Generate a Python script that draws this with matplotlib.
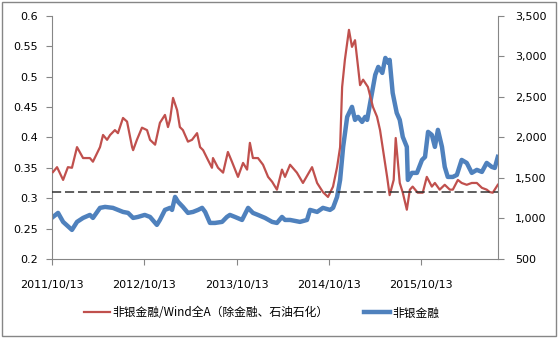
import numpy as np
import matplotlib
matplotlib.use("Agg")
import matplotlib.pyplot as plt
import matplotlib.dates as mdates
import pandas as pd
from matplotlib.patches import Rectangle

# relative valuation: non-bank financials / Wind All A (ex financials, oil & petrochem)
ratio_dates = [
    "2011-10-17", "2011-11-02", "2011-11-26", "2011-12-15", "2011-12-31", "2012-01-20",
    "2012-02-13", "2012-03-11", "2012-03-23", "2012-04-20", "2012-05-02", "2012-05-18",
    "2012-05-30", "2012-06-18", "2012-06-30", "2012-07-20", "2012-08-05", "2012-08-25",
    "2012-08-29", "2012-09-13", "2012-10-03", "2012-10-23", "2012-11-04", "2012-11-24",
    "2012-12-13", "2013-01-02", "2013-01-14", "2013-01-22", "2013-02-03", "2013-02-19",
    "2013-03-02", "2013-03-14", "2013-04-03", "2013-04-19", "2013-05-09", "2013-05-21",
    "2013-06-02", "2013-06-21", "2013-07-07", "2013-07-11", "2013-07-31", "2013-08-20",
    "2013-09-08", "2013-09-24", "2013-10-18", "2013-11-07", "2013-11-23", "2013-12-04",
    "2013-12-16", "2014-01-05", "2014-01-25", "2014-02-14", "2014-03-02", "2014-03-21",
    "2014-04-10", "2014-04-22", "2014-05-12", "2014-06-08", "2014-07-02", "2014-08-07",
    "2014-08-27", "2014-09-19", "2014-10-09", "2014-10-29", "2014-11-14", "2014-11-26",
    "2014-12-04", "2014-12-15", "2014-12-31", "2015-01-12", "2015-01-24", "2015-02-05",
    "2015-02-13", "2015-02-25", "2015-03-16", "2015-04-05", "2015-04-21", "2015-05-03",
    "2015-05-15", "2015-05-31", "2015-06-10", "2015-06-26", "2015-07-04", "2015-07-20",
    "2015-08-01", "2015-08-17", "2015-08-29", "2015-09-09", "2015-09-29", "2015-10-19",
    "2015-11-04", "2015-11-24", "2015-12-06", "2015-12-25", "2016-01-14", "2016-02-03",
    "2016-02-15", "2016-03-06", "2016-03-21", "2016-04-10", "2016-04-30", "2016-05-20",
    "2016-06-09", "2016-06-28", "2016-07-10", "2016-07-22", "2016-08-11",
]
ratio_values = [
    0.343, 0.351, 0.330, 0.351, 0.350, 0.384,
    0.366, 0.366, 0.360, 0.384, 0.404, 0.396,
    0.404, 0.412, 0.407, 0.432, 0.426, 0.384,
    0.379, 0.396, 0.416, 0.412, 0.396, 0.388,
    0.424, 0.437, 0.417, 0.429, 0.465, 0.445,
    0.417, 0.412, 0.393, 0.396, 0.407, 0.384,
    0.379, 0.363, 0.350, 0.366, 0.350, 0.342,
    0.376, 0.360, 0.335, 0.358, 0.347, 0.391,
    0.366, 0.366, 0.355, 0.335, 0.327, 0.314,
    0.347, 0.335, 0.355, 0.342, 0.325, 0.351,
    0.325, 0.310, 0.302, 0.319, 0.351, 0.384,
    0.483, 0.528, 0.577, 0.549, 0.560, 0.516,
    0.486, 0.495, 0.483, 0.450, 0.434, 0.412,
    0.379, 0.335, 0.305, 0.330, 0.399, 0.325,
    0.309, 0.281, 0.314, 0.319, 0.309, 0.309,
    0.335, 0.319, 0.325, 0.314, 0.322, 0.314,
    0.314, 0.330, 0.325, 0.322, 0.325, 0.325,
    0.317, 0.314, 0.310, 0.309, 0.322,
]

# non-bank financials index level
index_dates = [
    "2011-10-17", "2011-11-06", "2011-11-26", "2011-12-31", "2012-01-20", "2012-02-13",
    "2012-03-11", "2012-03-23", "2012-04-20", "2012-05-10", "2012-06-10", "2012-06-30",
    "2012-07-20", "2012-08-09", "2012-08-29", "2012-09-17", "2012-10-14", "2012-11-04",
    "2012-12-01", "2012-12-13", "2013-01-02", "2013-01-22", "2013-01-30", "2013-02-11",
    "2013-02-23", "2013-03-14", "2013-04-03", "2013-04-23", "2013-05-13", "2013-05-29",
    "2013-06-10", "2013-06-29", "2013-07-19", "2013-08-16", "2013-09-04", "2013-09-16",
    "2013-10-06", "2013-11-03", "2013-11-27", "2013-12-16", "2014-01-05", "2014-02-02",
    "2014-03-02", "2014-03-21", "2014-04-10", "2014-04-22", "2014-05-12", "2014-06-20",
    "2014-07-18", "2014-07-30", "2014-08-27", "2014-09-19", "2014-10-17", "2014-10-29",
    "2014-11-14", "2014-11-26", "2014-12-08", "2014-12-24", "2015-01-12", "2015-01-24",
    "2015-02-05", "2015-02-21", "2015-03-05", "2015-03-13", "2015-03-25", "2015-04-14",
    "2015-04-26", "2015-05-12", "2015-05-24", "2015-06-05", "2015-06-10", "2015-06-22",
    "2015-07-08", "2015-07-20", "2015-08-01", "2015-08-17", "2015-08-21", "2015-09-06",
    "2015-09-26", "2015-10-16", "2015-10-28", "2015-11-09", "2015-11-24", "2015-12-06",
    "2015-12-18", "2016-01-03", "2016-01-14", "2016-01-26", "2016-02-15", "2016-03-02",
    "2016-03-21", "2016-04-10", "2016-04-30", "2016-05-20", "2016-06-09", "2016-06-28",
    "2016-07-18", "2016-07-30", "2016-08-11",
]
index_values = [
    1018, 1068, 957, 858, 957, 1006,
    1043, 1006, 1130, 1142, 1130, 1105,
    1080, 1068, 1006, 1018, 1043, 1018,
    920, 981, 1105, 1130, 1105, 1265,
    1204, 1142, 1068, 1080, 1105, 1130,
    1080, 944, 944, 957, 1018, 1043,
    1018, 981, 1130, 1068, 1043, 1006,
    957, 944, 1018, 981, 981, 957,
    981, 1105, 1080, 1130, 1105, 1130,
    1265, 1475, 1883, 2253, 2377, 2216,
    2253, 2191, 2253, 2216, 2426, 2772,
    2870, 2796, 2981, 2920, 2957, 2549,
    2302, 2216, 2006, 1883, 1475, 1562,
    1562, 1722, 1759, 2068, 2031, 1883,
    2093, 1883, 1636, 1512, 1512, 1537,
    1722, 1685, 1562, 1599, 1574, 1685,
    1636, 1623, 1759,
]

ref_level = 0.31
tick_dates = ["2011-10-13", "2012-10-13", "2013-10-13", "2014-10-13", "2015-10-13"]

ratio_x = pd.to_datetime(ratio_dates)
index_x = pd.to_datetime(index_dates)
ticks_x = pd.to_datetime(tick_dates)

red = "#C0504D"
blue = "#4F81BD"
grey = "#868686"

fig = plt.figure(figsize=(5.59, 3.38), dpi=100)
ax = fig.add_axes([0.093, 0.234, 0.798, 0.719])
ax2 = ax.twinx()

l1, = ax.plot(ratio_x, ratio_values, color=red, lw=1.6, zorder=3)
l2, = ax2.plot(index_x, index_values, color=blue, lw=3.2, zorder=2)
ax.axhline(ref_level, color="#333333", lw=1.1, dashes=(6, 2.5), zorder=4)

# put the ratio line above the index line
ax.set_zorder(ax2.get_zorder() + 1)
ax.patch.set_visible(False)

x0 = pd.Timestamp("2011-10-13")
x1 = pd.Timestamp("2016-08-12")
ax.set_xlim(x0, x1)
ax.set_ylim(0.2, 0.6)
ax.set_yticks(np.arange(0.2, 0.601, 0.05))
ax.set_yticklabels(["0.2", "0.25", "0.3", "0.35", "0.4", "0.45", "0.5", "0.55", "0.6"])
ax2.set_ylim(500, 3500)
ax2.set_yticks(np.arange(500, 3501, 500))
ax2.set_yticklabels(["{:,}".format(v) for v in range(500, 3501, 500)])

ax.set_xticks(ticks_x)
ax.xaxis.set_major_formatter(mdates.DateFormatter("%Y/%m/%d"))
ax.set_xticklabels([d.replace("-", "/") for d in tick_dates])

for a in (ax, ax2):
    a.spines["top"].set_visible(False)
    for s in ("left", "right", "bottom"):
        a.spines[s].set_color(grey)
    a.tick_params(colors=grey, labelcolor="black", labelsize=8, length=4)
ax.spines["right"].set_visible(False)
ax2.spines["left"].set_visible(False)
ax2.spines["bottom"].set_visible(False)
ax.tick_params(axis="y", pad=6)
ax.tick_params(axis="x", pad=11)
ax2.tick_params(axis="y", pad=8)

fig.legend([l1, l2], ["非银金融/Wind全A（除金融、石油石化）", "非银金融"],
           loc="center", bbox_to_anchor=(0.468, 0.074), ncol=2, frameon=False,
           handlelength=2.2, columnspacing=3.0, handletextpad=0.2,
           prop={"family": ["Noto Sans CJK SC", "DejaVu Sans"], "size": 8.5})

fig.patches.append(Rectangle((0.004, 0.006), 0.991, 0.988, transform=fig.transFigure,
                             fill=False, edgecolor=grey, lw=1))

fig.savefig("out.png", dpi=100)
